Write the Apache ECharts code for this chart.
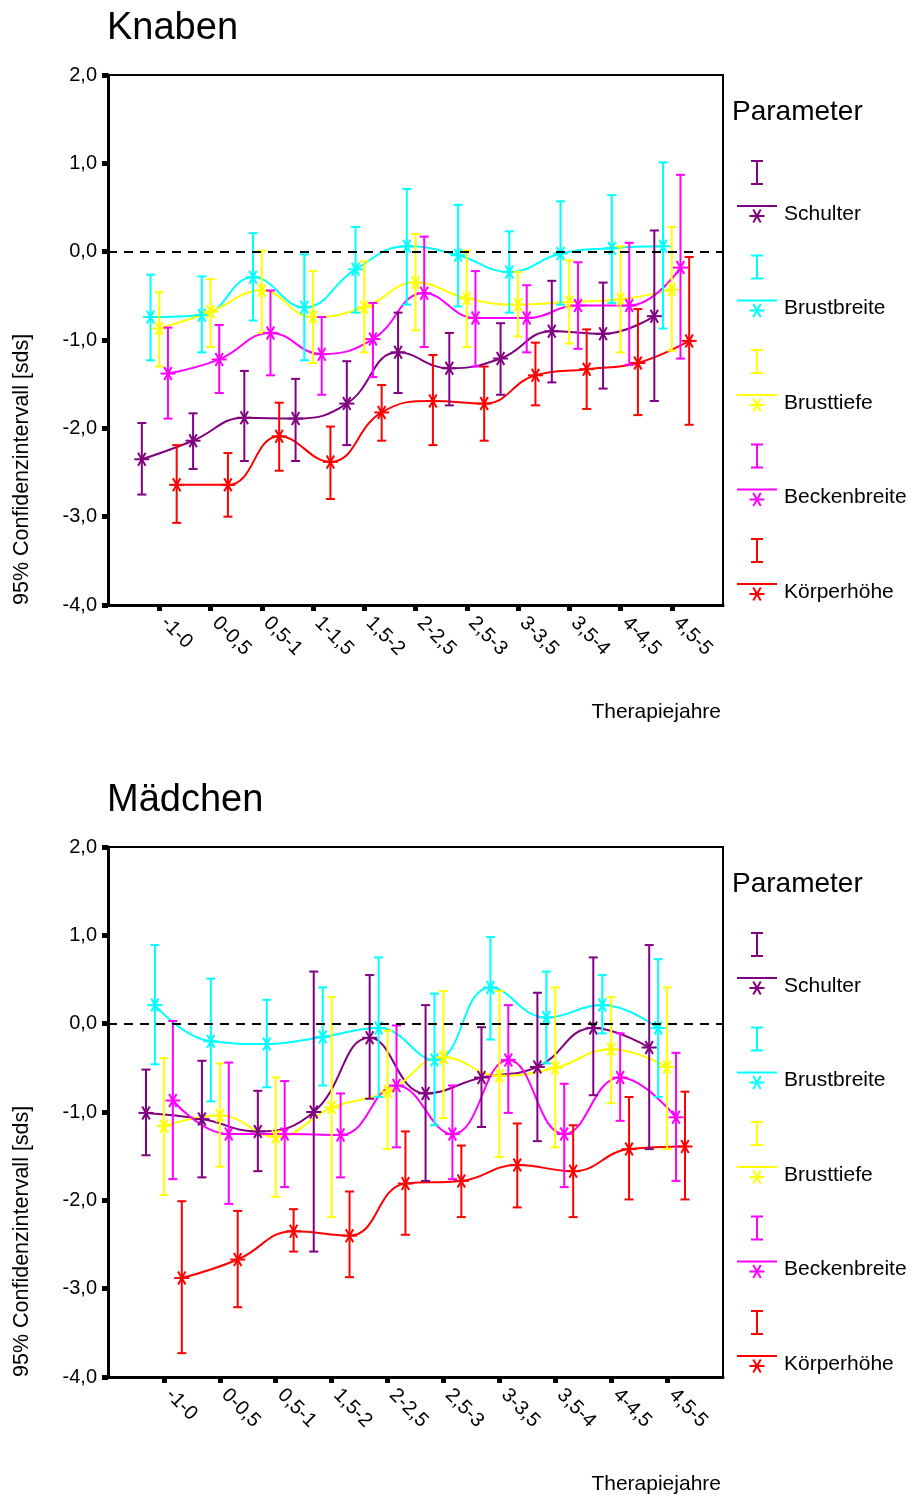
<!DOCTYPE html>
<html><head><meta charset="utf-8">
<script src="https://cdn.jsdelivr.net/npm/echarts/dist/echarts.min.js"></script>
<style>html,body{margin:0;padding:0;background:#fff}#c{width:912px;height:1497px}</style>
</head><body><div id="c"></div><script>
const params = ['Schulter','Brustbreite','Brusttiefe','Beckenbreite','Körperhöhe'];
const colors = ['#800080','#00FFFF','#FFFF00','#FF00FF','#FF0000'];
const catsKnaben = ['-1-0','0-0,5','0,5-1','1-1,5','1,5-2','2-2,5','2,5-3','3-3,5','3,5-4','4-4,5','4,5-5'];
const catsMaedchen = ['-1-0','0-0,5','0,5-1','1,5-2','2-2,5','2,5-3','3-3,5','3,5-4','4-4,5','4,5-5'];
const yTickLabels = ['-4,0','-3,0','-2,0','-1,0','0,0','1,0','2,0'];
const titles = ['Knaben','Mädchen'];
const xName = 'Therapiejahre';
const yName = '95% Confidenzintervall [sds]';
const legendTitle = 'Parameter';

// Knaben
const kSchulterMean = [-2.35,-2.14,-1.88,-1.89,-1.72,-1.14,-1.32,-1.21,-0.90,-0.93,-0.73];
const kSchulterLow  = [-2.75,-2.46,-2.37,-2.37,-2.19,-1.60,-1.74,-1.62,-1.48,-1.55,-1.69];
const kSchulterHigh = [-1.94,-1.83,-1.35,-1.44,-1.24,-0.69,-0.92,-0.81,-0.33,-0.35,0.24];
const kBrustbreiteMean = [-0.74,-0.72,-0.29,-0.63,-0.20,0.06,-0.04,-0.23,-0.02,0.04,0.06];
const kBrustbreiteLow  = [-1.23,-1.14,-0.78,-1.23,-0.69,-0.60,-0.62,-0.69,-0.60,-0.58,-0.87];
const kBrustbreiteHigh = [-0.26,-0.28,0.21,-0.03,0.28,0.71,0.53,0.23,0.57,0.64,1.01];
const kBrusttiefeMean = [-0.87,-0.68,-0.44,-0.74,-0.63,-0.35,-0.53,-0.60,-0.57,-0.54,-0.43];
const kBrusttiefeLow  = [-1.30,-1.08,-0.92,-1.26,-1.14,-0.89,-1.08,-0.96,-1.04,-1.14,-1.12];
const kBrusttiefeHigh = [-0.46,-0.31,0.01,-0.22,-0.11,0.20,0.01,-0.23,-0.10,0.06,0.28];
const kBeckenMean = [-1.38,-1.22,-0.92,-1.16,-0.99,-0.47,-0.75,-0.75,-0.61,-0.61,-0.18];
const kBeckenLow  = [-1.89,-1.60,-1.40,-1.62,-1.42,-1.08,-1.30,-1.14,-1.10,-1.28,-1.21];
const kBeckenHigh = [-0.86,-0.83,-0.44,-0.74,-0.58,0.17,-0.22,-0.38,-0.12,0.10,0.87];
const kKoerperMean = [-2.64,-2.64,-2.09,-2.38,-1.82,-1.69,-1.72,-1.40,-1.33,-1.26,-1.01];
const kKoerperLow  = [-3.07,-3.00,-2.48,-2.80,-2.14,-2.19,-2.14,-1.74,-1.78,-1.85,-1.96];
const kKoerperHigh = [-2.19,-2.28,-1.71,-1.98,-1.51,-1.17,-1.30,-1.03,-0.88,-0.65,-0.06];

// Mädchen
const mSchulterMean = [-1.01,-1.08,-1.22,-1.00,-0.16,-0.79,-0.61,-0.49,-0.05,-0.27];
const mSchulterLow  = [-1.49,-1.74,-1.67,-2.58,-0.85,-1.78,-1.17,-1.33,-0.81,-1.42];
const mSchulterHigh = [-0.52,-0.42,-0.76,0.59,0.55,0.21,-0.04,0.35,0.75,0.89];
const mBrustbreiteMean = [0.21,-0.20,-0.23,-0.15,-0.05,-0.41,0.41,0.07,0.21,-0.05];
const mBrustbreiteLow  = [-0.46,-0.88,-0.72,-0.70,-0.83,-1.15,-0.18,-0.45,-0.11,-0.83];
const mBrustbreiteHigh = [0.89,0.51,0.27,0.41,0.75,0.34,0.98,0.59,0.55,0.73];
const mBrusttiefeMean = [-1.16,-1.04,-1.28,-0.95,-0.77,-0.38,-0.59,-0.50,-0.29,-0.49];
const mBrusttiefeLow  = [-1.94,-1.62,-1.96,-2.19,-1.42,-1.07,-1.51,-1.40,-0.90,-1.42];
const mBrusttiefeHigh = [-0.39,-0.45,-0.61,0.30,-0.08,0.37,0.37,0.41,0.30,0.41];
const mBeckenMean = [-0.87,-1.25,-1.25,-1.26,-0.70,-1.25,-0.41,-1.25,-0.61,-1.06];
const mBeckenLow  = [-1.76,-2.04,-1.85,-1.74,-1.40,-1.76,-1.01,-1.85,-1.10,-1.78];
const mBeckenHigh = [0.03,-0.44,-0.65,-0.79,-0.02,-0.70,0.21,-0.68,-0.11,-0.33];
const mKoerperMean = [-2.88,-2.67,-2.35,-2.40,-1.81,-1.78,-1.60,-1.67,-1.42,-1.39];
const mKoerperLow  = [-3.73,-3.21,-2.58,-2.87,-2.39,-2.19,-2.08,-2.19,-1.99,-1.99];
const mKoerperHigh = [-2.01,-2.12,-2.10,-1.90,-1.22,-1.38,-1.13,-1.15,-0.83,-0.77];

const charts = [
  {cats: catsKnaben, dodge: 0.17,
   mean:[kSchulterMean,kBrustbreiteMean,kBrusttiefeMean,kBeckenMean,kKoerperMean],
   low:[kSchulterLow,kBrustbreiteLow,kBrusttiefeLow,kBeckenLow,kKoerperLow],
   high:[kSchulterHigh,kBrustbreiteHigh,kBrusttiefeHigh,kBeckenHigh,kKoerperHigh]},
  {cats: catsMaedchen, dodge: 0.16,
   mean:[mSchulterMean,mBrustbreiteMean,mBrusttiefeMean,mBeckenMean,mKoerperMean],
   low:[mSchulterLow,mBrustbreiteLow,mBrusttiefeLow,mBeckenLow,mKoerperLow],
   high:[mSchulterHigh,mBrustbreiteHigh,mBrusttiefeHigh,mBeckenHigh,mKoerperHigh]}
];

const FONT = '"Liberation Sans", Arial, sans-serif';
const GRID_TOP = [75, 847];
const DY = 772;

function starLines(cx, cy, color, r) {
  return [0, 60, 120].map(a => {
    const rad = a * Math.PI / 180;
    const dx = r * Math.cos(rad), dy = r * Math.sin(rad);
    return {type: 'line', shape: {x1: cx - dx, y1: cy - dy, x2: cx + dx, y2: cy + dy},
            style: {stroke: color, lineWidth: 2}};
  });
}
function seg(x1, y1, x2, y2, color, w) {
  return {type: 'line', shape: {x1, y1, x2, y2}, style: {stroke: color, lineWidth: w || 2}};
}

function makeRender(color) {
  return function (params, api) {
    const x = api.value(0);
    const pLo = api.coord([x, api.value(1)]);
    const pHi = api.coord([x, api.value(2)]);
    const pM = api.coord([x, api.value(3)]);
    const cw = 4.5;
    const children = [
      seg(pLo[0], pLo[1], pHi[0], pHi[1], color),
      seg(pLo[0] - cw, pLo[1], pLo[0] + cw, pLo[1], color),
      seg(pHi[0] - cw, pHi[1], pHi[0] + cw, pHi[1], color)
    ].concat(starLines(pM[0], pM[1], color, 7.5));
    return {type: 'group', children};
  };
}

const xAxes = [], yAxes = [], grids = [], series = [], graphics = [];
charts.forEach((ch, g) => {
  const n = ch.cats.length;
  grids.push({left: 108, top: GRID_TOP[g], width: 615, height: 530, show: true,
              borderColor: '#000', borderWidth: 2, backgroundColor: '#fff'});
  xAxes.push({type: 'category', gridIndex: g, data: [''].concat(ch.cats, ['']), boundaryGap: false,
    axisLine: {show: true, onZero: false, lineStyle: {color: '#000', width: 3}},
    axisTick: {show: true, length: 6, interval: (i) => i > 0 && i <= n, lineStyle: {color: '#000', width: 5}},
    axisLabel: {interval: 0, rotate: -45, color: '#000', fontSize: 20, fontFamily: FONT, margin: 10,
                padding: [0, 0, 0, 7]},
    splitLine: {show: false}});
  xAxes.push({type: 'value', gridIndex: g, min: 0, max: n + 1, show: false, splitLine: {show: false}});
  yAxes.push({type: 'value', gridIndex: g, min: -4, max: 2, interval: 1,
    axisLine: {show: true, onZero: false, lineStyle: {color: '#000', width: 3}},
    axisTick: {show: true, length: 6, lineStyle: {color: '#000', width: 5}},
    axisLabel: {color: '#000', fontSize: 20, fontFamily: FONT, margin: 11,
                formatter: (v) => yTickLabels[Math.round(v) + 4]},
    splitLine: {show: false}});
  const offs = [-2, -1, 0, 1, 2].map(k => k * ch.dodge);
  params.forEach((p, s) => {
    const mean = ch.mean[s], lo = ch.low[s], hi = ch.high[s];
    const lineSeries = {type: 'line', name: p, xAxisIndex: 2 * g + 1, yAxisIndex: g,
      data: mean.map((m, i) => [i + 1 + offs[s], m]), smooth: 0.45, symbol: 'none',
      lineStyle: {color: colors[s], width: 2}, z: 2, silent: true, animation: false};
    if (s === 0) {
      lineSeries.markLine = {silent: true, symbol: 'none', label: {show: false}, animation: false,
        lineStyle: {color: '#000', type: [9, 7], width: 2}, data: [{yAxis: 0}]};
    }
    series.push(lineSeries);
    series.push({type: 'custom', name: p + ' CI', xAxisIndex: 2 * g + 1, yAxisIndex: g,
      data: mean.map((m, i) => [i + 1 + offs[s], lo[i], hi[i], m]),
      encode: {x: 0, y: [1, 2, 3]}, renderItem: makeRender(colors[s]), z: 3, silent: true, animation: false});
  });

  const dy = g * DY;
  graphics.push({type: 'text', x: 107, y: 29 + dy, style: {text: titles[g], font: '38px ' + FONT, fill: '#000', align: 'left', verticalAlign: 'middle'}});
  graphics.push({type: 'text', x: 721, y: 712 + dy, style: {text: xName, font: '21px ' + FONT, fill: '#000', align: 'right', verticalAlign: 'middle'}});
  graphics.push({type: 'text', x: 22, y: 605 + dy, rotation: Math.PI / 2, style: {text: yName, font: '21.5px ' + FONT, fill: '#000', align: 'left', verticalAlign: 'middle'}});
  graphics.push({type: 'text', x: 732, y: 112 + dy, style: {text: legendTitle, font: '28px ' + FONT, fill: '#000', align: 'left', verticalAlign: 'middle'}});
  params.forEach((p, i) => {
    const L = 214 + i * 94.5 + dy;
    const c = colors[i];
    graphics.push(seg(757, L - 53, 757, L - 30, c));
    graphics.push(seg(751, L - 53, 763, L - 53, c));
    graphics.push(seg(751, L - 30, 763, L - 30, c));
    graphics.push(seg(737, L - 8, 777, L - 8, c));
    starLines(757, L + 2, c, 7.5).forEach(e => graphics.push(e));
    graphics.push({type: 'text', x: 784, y: L, style: {text: p, font: '21px ' + FONT, fill: '#000', align: 'left', verticalAlign: 'middle'}});
  });
});

const chart = echarts.init(document.getElementById('c'), null, {renderer: 'canvas'});
chart.setOption({
  animation: false,
  backgroundColor: '#fff',
  textStyle: {fontFamily: FONT},
  grid: grids, xAxis: xAxes, yAxis: yAxes, series: series, graphic: graphics
});
</script></body></html>
